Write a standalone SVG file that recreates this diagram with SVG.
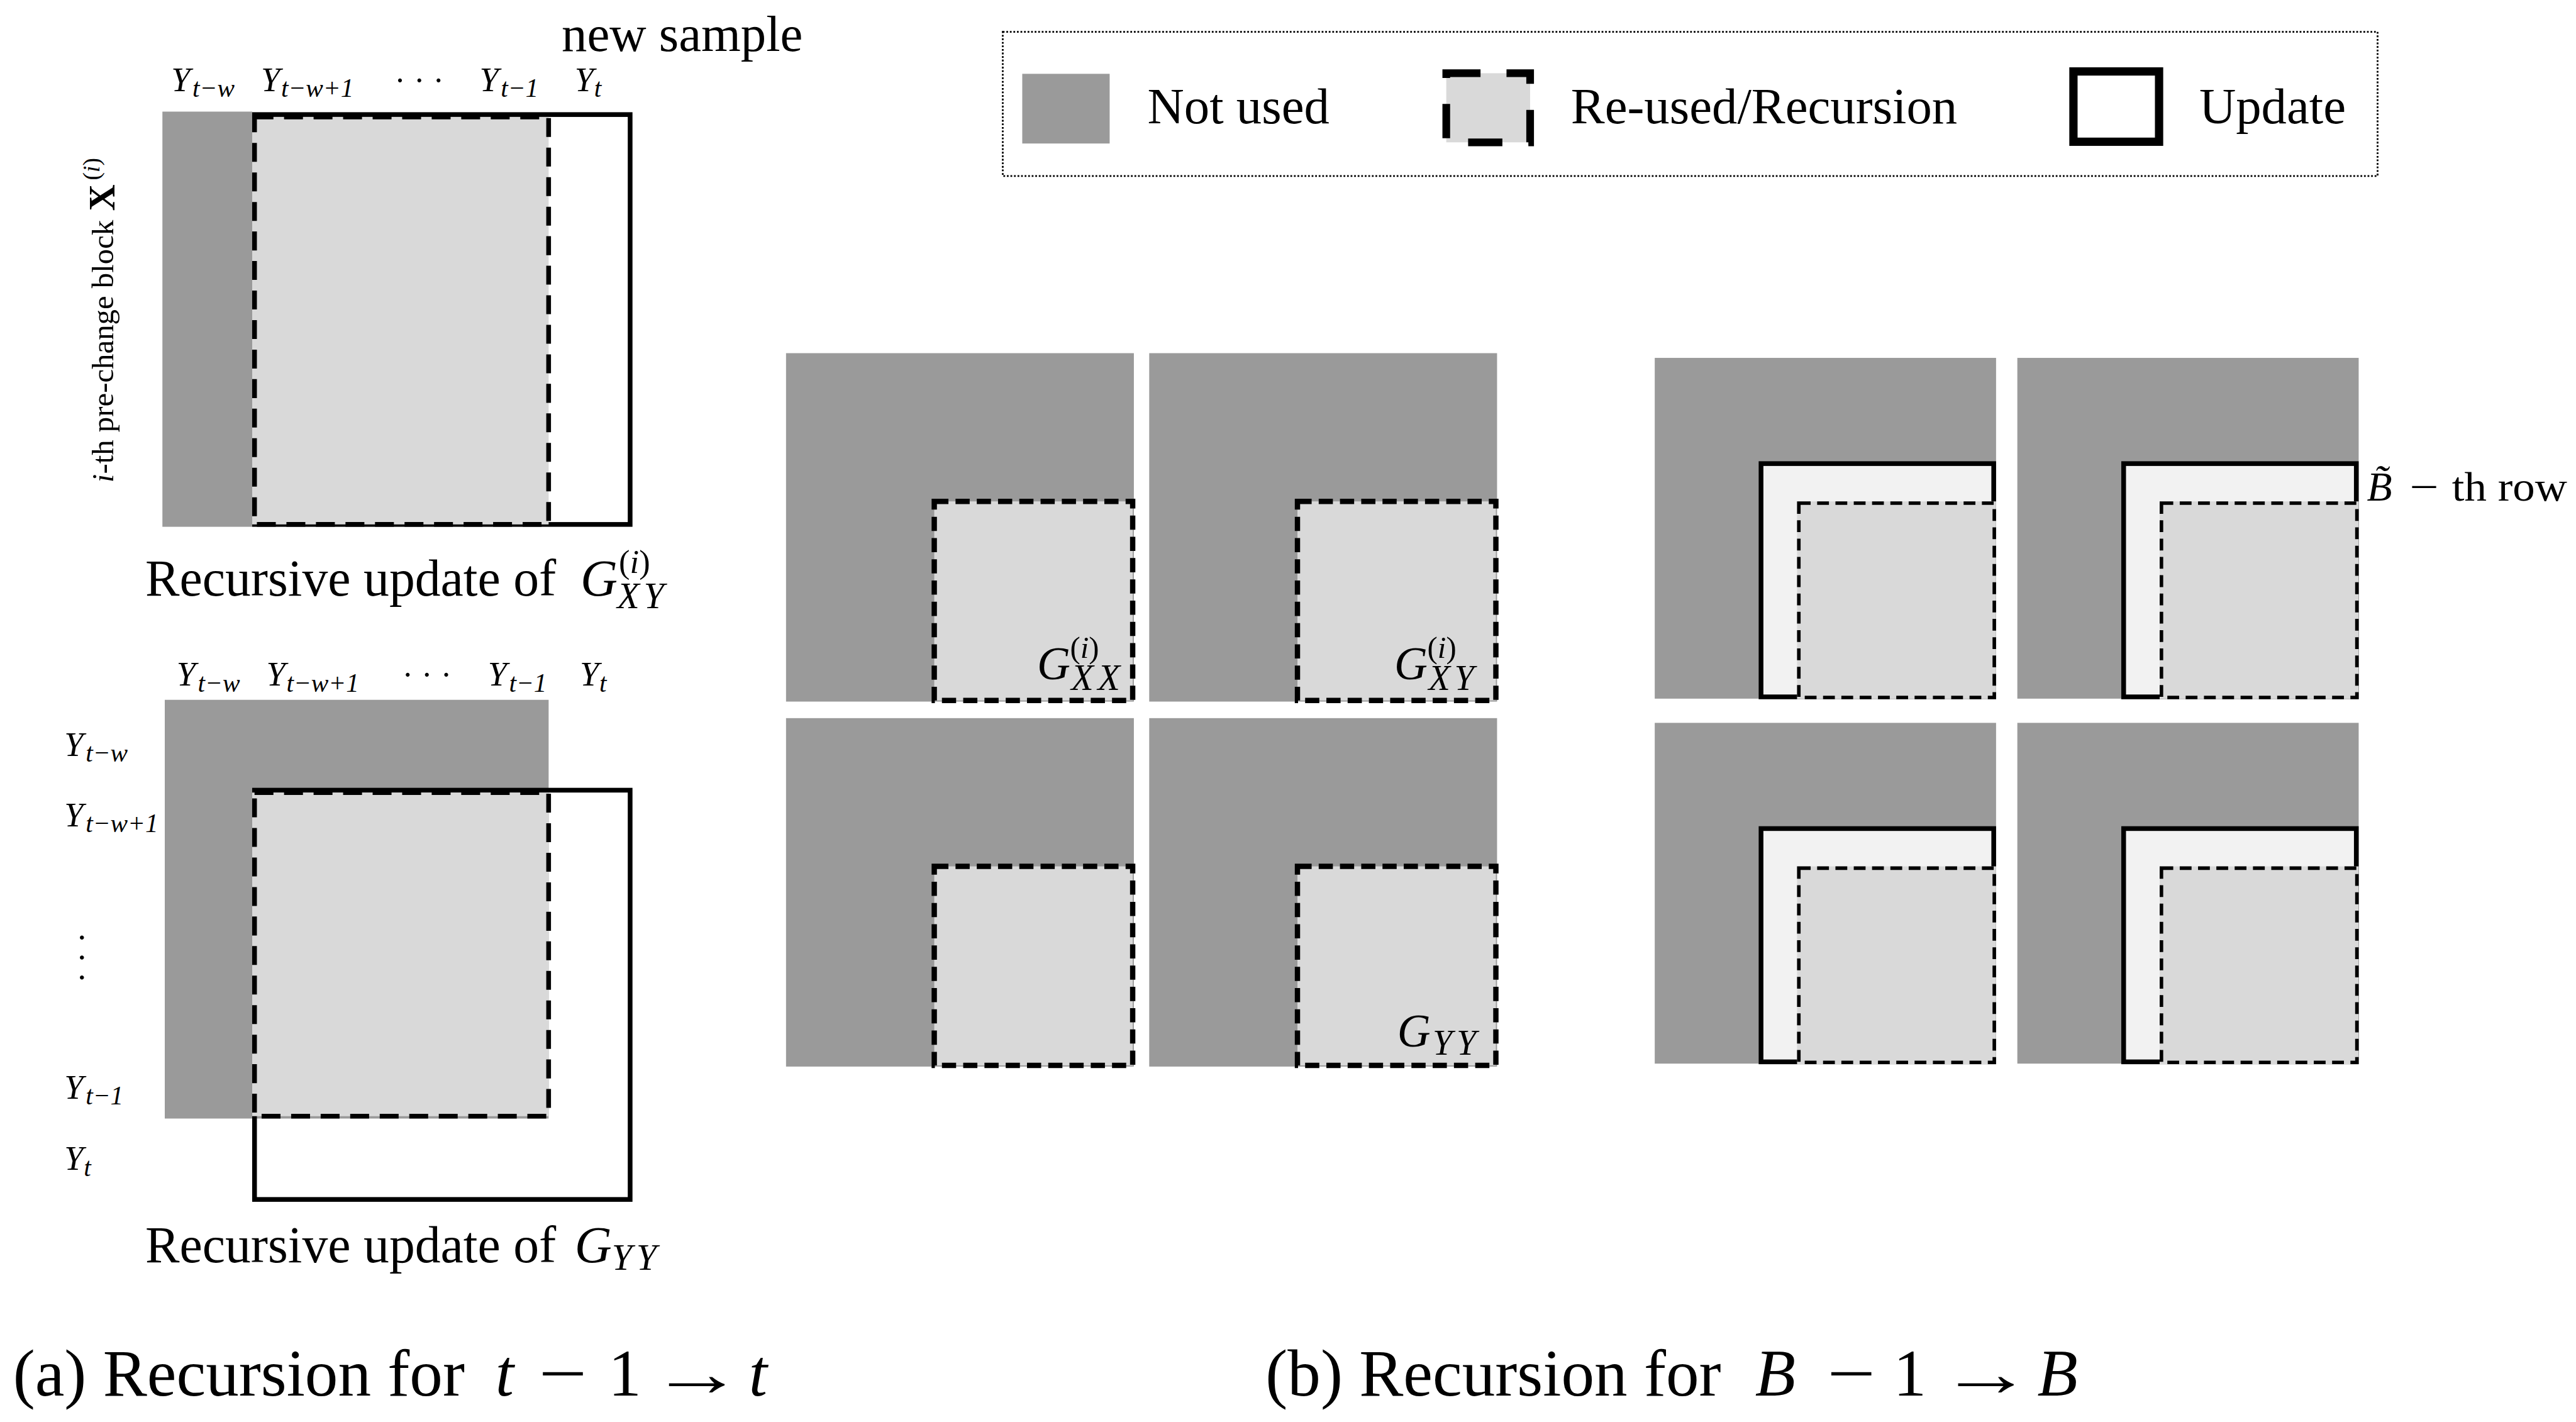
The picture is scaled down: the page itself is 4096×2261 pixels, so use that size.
<svg xmlns="http://www.w3.org/2000/svg" width="4096" height="2261" viewBox="0 0 4096 2261">
<defs>
<style>
text{font-family:"Liberation Serif","Times New Roman",serif;fill:#000}
.it{font-style:italic}
.up{font-style:normal}
.ng{fill:#9a9a9a}
.lg{fill:#d9d9d9}
.sol{fill:none;stroke:#000;stroke-width:8}
.dA{fill:none;stroke:#000;stroke-width:8;stroke-dasharray:32 18}
.dB{fill:#d9d9d9;stroke:#000;stroke-width:9;stroke-dasharray:24 12}
.upd{fill:#f2f2f2;stroke:#000;stroke-width:8}
.dC{fill:none;stroke:#000;stroke-width:6;stroke-dasharray:20 11}
.y{font-size:58px;font-style:italic}
.s{font-size:44px}
.sub{font-size:62px;font-style:italic;letter-spacing:7px}
.cap{font-size:87px}
.leg{font-size:86px}
.big{font-size:112px}
</style>
</defs>
<rect width="4096" height="2261" fill="#fff"/>
<g transform="scale(0.93902)">

<!-- ===== (a) top: G_XY ===== -->
<g id="panel-a-xy">
  <rect class="ng" x="275" y="189" width="152" height="703"/>
  <rect class="sol" x="431" y="194" width="636" height="694"/>
  <rect class="lg" x="427" y="198" width="502" height="690"/>
  <rect class="dA" x="431" y="198" width="498" height="690"/>
  <text x="951" y="86" font-size="86">new sample</text>
  <g id="cols-top">
    <text class="y" x="290" y="154">Y<tspan class="s" x="326" y="164">t−w</tspan></text>
    <text class="y" x="442" y="154">Y<tspan class="s" x="476" y="164">t−w+1</tspan></text>
    <text x="668" y="154" font-size="56">· · ·</text>
    <text class="y" x="812" y="154">Y<tspan class="s" x="848" y="164">t−1</tspan></text>
    <text class="y" x="973" y="154">Y<tspan class="s" x="1006" y="164">t</tspan></text>
  </g>
  <g id="block-label" transform="translate(192,817) rotate(-90)">
    <text font-size="52"><tspan class="it">i</tspan>-th pre-change block<tspan x="460" y="2" font-size="62" font-weight="bold">X</tspan><tspan x="512" y="-24" font-size="40">(<tspan class="it">i</tspan>)</tspan></text>
  </g>
  <g id="caption-xy">
    <text class="cap" x="246" y="1008">Recursive update of<tspan class="it" x="983" y="1008">G</tspan><tspan x="1048" y="970" font-size="56">(<tspan class="it">i</tspan>)</tspan><tspan class="sub" x="1045" y="1030">XY</tspan></text>
  </g>
</g>

<!-- ===== (a) bottom: G_YY ===== -->
<g id="panel-a-yy">
  <rect class="ng" x="279" y="1185" width="650" height="709"/>
  <rect class="sol" x="431" y="1338" width="636" height="693"/>
  <rect class="lg" x="427" y="1342" width="502" height="548"/>
  <rect class="dA" x="431" y="1342" width="498" height="548"/>
  <g id="cols-bottom">
    <text class="y" x="299" y="1161">Y<tspan class="s" x="335" y="1171">t−w</tspan></text>
    <text class="y" x="451" y="1161">Y<tspan class="s" x="485" y="1171">t−w+1</tspan></text>
    <text x="681" y="1161" font-size="56">· · ·</text>
    <text class="y" x="826" y="1161">Y<tspan class="s" x="862" y="1171">t−1</tspan></text>
    <text class="y" x="982" y="1161">Y<tspan class="s" x="1015" y="1171">t</tspan></text>
  </g>
  <g id="rows-bottom">
    <text class="y" x="109" y="1280">Y<tspan class="s" x="145" y="1290">t−w</tspan></text>
    <text class="y" x="109" y="1399">Y<tspan class="s" x="145" y="1409">t−w+1</tspan></text>
    <text transform="translate(119,1578) rotate(90)" font-size="58">· · ·</text>
    <text class="y" x="109" y="1860">Y<tspan class="s" x="145" y="1870">t−1</tspan></text>
    <text class="y" x="109" y="1981">Y<tspan class="s" x="142" y="1991">t</tspan></text>
  </g>
  <g id="caption-yy">
    <text class="cap" x="246" y="2137">Recursive update of<tspan class="it" x="973" y="2137">G</tspan><tspan class="sub" x="1036" y="2150">YY</tspan></text>
  </g>
</g>

<!-- ===== legend ===== -->
<g id="legend">
  <rect x="1698" y="54" width="2328" height="244" fill="#fff" stroke="#000" stroke-width="3" stroke-dasharray="3 3"/>
  <rect class="ng" x="1731" y="125" width="148" height="118"/>
  <text class="leg" x="1943" y="209">Not used</text>
  <rect x="2449" y="124" width="142" height="117" fill="#d9d9d9" stroke="#000" stroke-width="13" stroke-dasharray="58 44"/>
  <text class="leg" x="2660" y="209">Re-used/Recursion</text>
  <rect x="3511" y="121" width="145" height="119" fill="#fff" stroke="#000" stroke-width="14"/>
  <text class="leg" x="3724" y="209">Update</text>
</g>

<!-- ===== (b) middle grid ===== -->
<g id="mid-xx" transform="translate(1331,598)">
  <rect class="ng" width="589" height="590"/>
  <rect class="dB" x="251" y="251" width="336" height="337"/>
  <text class="it" x="425" y="552" font-size="78">G<tspan class="up" x="481" y="516" font-size="52">(<tspan class="it">i</tspan>)</tspan><tspan class="sub" x="483" y="570" font-size="60px">XX</tspan></text>
</g>
<g id="mid-xy" transform="translate(1946,598)">
  <rect class="ng" width="589" height="590"/>
  <rect class="dB" x="251" y="251" width="336" height="337"/>
  <text class="it" x="415" y="552" font-size="78">G<tspan class="up" x="471" y="516" font-size="52">(<tspan class="it">i</tspan>)</tspan><tspan class="sub" x="473" y="570" style="font-size:60px">XY</tspan></text>
</g>
<g id="mid-yx" transform="translate(1331,1216)">
  <rect class="ng" width="589" height="590"/>
  <rect class="dB" x="251" y="251" width="336" height="337"/>
</g>
<g id="mid-yy" transform="translate(1946,1216)">
  <rect class="ng" width="589" height="590"/>
  <rect class="dB" x="251" y="251" width="336" height="337"/>
  <text class="it" x="420" y="556" font-size="78">G<tspan class="sub" x="480" y="570" style="font-size:60px">YY</tspan></text>
</g>

<!-- ===== (b) right grid ===== -->
<g id="right-xx" transform="translate(2802,606)">
  <rect class="ng" width="578" height="577"/>
  <rect class="upd" x="180" y="179" width="394" height="395"/>
  <rect class="lg" x="241" y="243" width="337" height="335"/>
  <rect class="dC" x="244" y="246" width="331" height="329"/>
</g>
<g id="right-xy" transform="translate(3416,606)">
  <rect class="ng" width="578" height="577"/>
  <rect class="upd" x="180" y="179" width="394" height="395"/>
  <rect class="lg" x="241" y="243" width="337" height="335"/>
  <rect class="dC" x="244" y="246" width="331" height="329"/>
</g>
<g id="right-yx" transform="translate(2802,1224)">
  <rect class="ng" width="578" height="577"/>
  <rect class="upd" x="180" y="179" width="394" height="395"/>
  <rect class="lg" x="241" y="243" width="337" height="335"/>
  <rect class="dC" x="244" y="246" width="331" height="329"/>
</g>
<g id="right-yy" transform="translate(3416,1224)">
  <rect class="ng" width="578" height="577"/>
  <rect class="upd" x="180" y="179" width="394" height="395"/>
  <rect class="lg" x="241" y="243" width="337" height="335"/>
  <rect class="dC" x="244" y="246" width="331" height="329"/>
</g>
<g id="row-label">
  <text class="it" x="4008" y="848" font-size="70">B̃</text>
  <text transform="translate(4080,848) scale(1.25,1)" font-size="70">−</text>
  <text x="4152" y="848" font-size="70" textLength="195" lengthAdjust="spacingAndGlyphs">th row</text>
</g>

<!-- ===== sub-captions ===== -->
<g id="caption-a">
  <text class="big" x="22" y="2363">(a) Recursion for<tspan class="it" x="839">t</tspan></text>
  <text class="big" transform="translate(912,2363) scale(1.3,1)">−</text>
  <text class="big" x="1030" y="2363">1</text>
  <text class="big" transform="translate(1100,2363) scale(1.42,1)">→</text>
  <text class="big it" x="1268" y="2363">t</text>
</g>
<g id="caption-b">
  <text class="big" x="2143" y="2363">(b) Recursion for<tspan class="it" x="2972">B</tspan></text>
  <text class="big" transform="translate(3094,2363) scale(1.3,1)">−</text>
  <text class="big" x="3206" y="2363">1</text>
  <text class="big" transform="translate(3283,2363) scale(1.42,1)">→</text>
  <text class="big it" x="3450" y="2363">B</text>
</g>

</g>
</svg>
